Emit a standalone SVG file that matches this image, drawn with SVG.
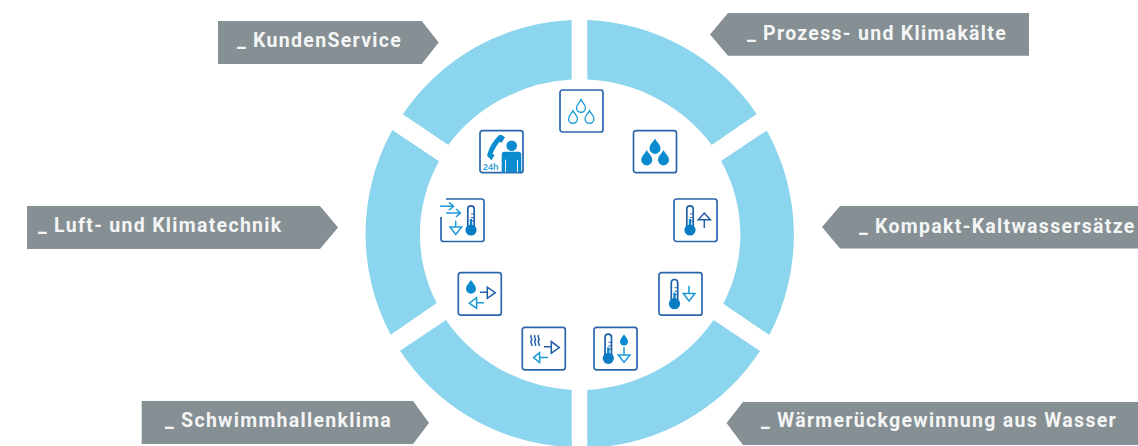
<svg xmlns="http://www.w3.org/2000/svg" xmlns:xlink="http://www.w3.org/1999/xlink" width="1138" height="446" viewBox="0 0 1138 446">
<style>
.seg{fill:#8cd5ee}
.tag{fill:#868f93}
.lbl{font-family:"Roboto","Liberation Sans",sans-serif;font-weight:700;font-size:19.5px;letter-spacing:1.3px;fill:#f4f5f5}
.box{fill:#fff;stroke:#2b66ad;stroke-width:1.7}
.lt{fill:none;stroke:#1a9ad6;stroke-width:1.5}
.dk{fill:none;stroke:#1f5fa8;stroke-width:1.5}
.fill{fill:#0a8bcf}
</style>
<defs>
<path id="drop" d="M0,-7C1,-4.500 5,-1.500 5,2A5,5 0 0 1 -5,2C-5,-1.500 -1,-4.500 0,-7Z"/>
<g id="thermo">
<path d="M-3.200,-3V-21A3.200,3.200 0 0 1 3.200,-21V-3" fill="#fff" stroke="#1f5fa8" stroke-width="1.7"/>
<path d="M-1.200,-3V-11H1.200V-3Z" fill="#0a8bcf"/>
<circle r="5.600" fill="#0a7cc4"/>
<path d="M0,-16H3M0,-12.500H3M0,-9H3" stroke="#1f5fa8" stroke-width="0.900" fill="none"/>
</g>
</defs>
<g id="seg-kundenservice"><path class="seg" d="M402.700,114.300A215,215 0 0 1 571.700,20V79.600A162.500,155.200 0 0 0 448.300,145Z"/></g>
<g id="seg-prozess"><path class="seg" d="M587.300,20A215,215 0 0 1 756.700,114L711.700,145A162.500,155.200 0 0 0 587.300,79.600Z"/></g>
<g id="seg-kompakt"><path class="seg" d="M766.700,130.500A215,215 0 0 1 769.300,335L723.300,303.700A162.500,155.200 0 0 0 721,161Z"/></g>
<g id="seg-luft"><path class="seg" d="M392.300,130A215,215 0 0 0 390.700,334.700L436.700,303A162.500,155.200 0 0 1 439,161.300Z"/></g>
<g id="seg-schwimm"><path class="seg" d="M400,350.700L446,320A162.500,155.200 0 0 0 571.700,390V446H556A215,215 0 0 1 400,350.700Z"/></g>
<g id="seg-waerme"><path class="seg" d="M587.300,390A162.500,155.200 0 0 0 713.500,320L760,351A215,215 0 0 1 610,446H587.300Z"/></g>

<g id="label-kundenservice"><path class="tag" d="M218,21H421.700L438.700,42.500L421.700,64H218Z"/><text class="lbl" x="237" y="47">_ KundenService</text></g>
<g id="label-prozess"><path class="tag" d="M1029,13V55.700H728L710,34.500L728,13Z"/><text class="lbl" x="747" y="39.500">_ Prozess- und Klimakälte</text></g>
<g id="label-kompakt"><path class="tag" d="M1138,206V248.500H840L822,227L840,206Z"/><text class="lbl" x="859" y="233">_ Kompakt-Kaltwassersätze</text></g>
<g id="label-luft"><path class="tag" d="M27,206H320L338,227.500L320,249H27Z"/><text class="lbl" x="38" y="232">_ Luft- und Klimatechnik</text></g>
<g id="label-schwimm"><path class="tag" d="M141.700,401H413L429,423L413,444H141.700Z"/><text class="lbl" x="165" y="426.500">_ Schwimmhallenklima</text></g>
<g id="label-waerme"><path class="tag" d="M1138,402V445H743L726.500,423L743,402Z"/><text class="lbl" x="761" y="427">_ Wärmerückgewinnung aus Wasser</text></g>

<g id="icon-drops-outline" transform="translate(560,90)"><rect class="box" width="43" height="42" rx="2.500"/>
<use xlink:href="#drop" href="#drop" transform="translate(21,16) scale(.9)" class="lt"/><use xlink:href="#drop" href="#drop" transform="translate(13,27) scale(.9)" class="lt"/><use xlink:href="#drop" href="#drop" transform="translate(29.500,27) scale(.9)" class="lt"/></g>

<g id="icon-drops-filled" transform="translate(633.500,130.700)"><rect class="box" width="43" height="42" rx="2.500"/>
<g class="fill"><use xlink:href="#drop" href="#drop" transform="translate(21.500,15.500) scale(1.100)"/><use xlink:href="#drop" href="#drop" transform="translate(13.300,27) scale(1.100)"/><use xlink:href="#drop" href="#drop" transform="translate(30,27) scale(1.100)"/></g></g>

<g id="icon-service" transform="translate(480,130.700)"><rect class="box" width="43" height="42" rx="2.500"/>
<circle class="fill" cx="31.700" cy="15" r="5.300"/>
<path class="fill" d="M21.700,24Q21.700,21 24.500,21H38.500Q41.300,21 41.300,24V41.500H21.700Z"/>
<path d="M25.500,29V41.500M37.500,29V41.500" stroke="#fff" stroke-width="0.900" fill="none"/>
<path class="fill" d="M22,4.500L25,6.500L21.500,12L19.500,11C17,14.500 14,19 12.500,23L14.500,24.500L11.500,29.500L8,26C7,25 7,24 7.500,23C10,15 14,9 19,4.500C20,3.800 21,3.800 22,4.500Z"/>
<text x="3" y="39.500" font-family="Liberation Sans,sans-serif" font-weight="700" font-size="9" fill="#3fa3da">24h</text></g>

<g id="icon-thermo-air" transform="translate(441,199)">
<path class="box" d="M5,0H40.500Q43,0 43,2.500V40Q43,42.500 40.500,42.500H2.500Q0,42.500 0,40V18" fill="#fff"/>
<path class="lt" d="M-1,7.300H12M8,3.300L12.500,7.300L8,11.300M5,14H19M15,10L19.500,14L15,18M14.700,21.700V28"/>
<path class="lt" d="M9,28H20.700L14.800,35.500Z"/>
<use xlink:href="#thermo" href="#thermo" x="30" y="31"/></g>

<g id="icon-drop-exchange" transform="translate(458.300,272.700)"><rect class="box" width="43" height="42.500" rx="2.500"/>
<use xlink:href="#drop" href="#drop" x="12.700" y="14" class="fill"/>
<path class="dk" d="M21.700,19.500H29M29,14.500V25.700L37,20Z"/>
<path class="lt" d="M25.700,30H18.300M18.300,25L11,30.500L18.300,35.700Z"/></g>

<g id="icon-steam-exchange" transform="translate(522.300,327.300)"><rect class="box" width="43" height="42.500" rx="2.500"/>
<path class="dk" stroke-width="1" d="M9,7.700C7,10 11,11 9,13.500C7.500,15.500 10.500,16.500 9.500,18.700M12.700,7.700C10.700,10 14.700,11 12.700,13.500C11.200,15.500 14.200,16.500 13.200,18.700M16.300,7.700C14.300,10 18.300,11 16.300,13.500C14.800,15.500 17.800,16.500 16.800,18.700"/>
<path class="dk" d="M21.700,19.500H29M29,14.300V26L37,20.300Z"/>
<path class="lt" d="M25.700,30.300H17.300M17.300,25.300L11.300,30.300L17.300,35.300Z"/></g>

<g id="icon-thermo-up" transform="translate(674,199)"><rect class="box" width="43" height="42.500" rx="2.500"/>
<use xlink:href="#thermo" href="#thermo" x="16" y="31"/>
<path class="dk" d="M30.300,29V20.700M24.300,20.700H36.300L30.300,14Z"/></g>

<g id="icon-thermo-down" transform="translate(659,272.700)"><rect class="box" width="43" height="42.500" rx="2.500" stroke-width="2"/>
<use xlink:href="#thermo" href="#thermo" x="15.500" y="31"/>
<path class="lt" d="M30,13V20.700M24.300,20.700H36L30,28.300Z"/></g>

<g id="icon-thermo-drop" transform="translate(594,327.300)"><rect class="box" width="43" height="42.500" rx="2.500"/>
<use xlink:href="#thermo" href="#thermo" x="14.300" y="31"/>
<use xlink:href="#drop" href="#drop" transform="translate(30,12.500) scale(.8)" class="fill"/>
<path class="lt" d="M30,20V27.700M24.300,27.700H36L30,35Z"/></g>
</svg>
